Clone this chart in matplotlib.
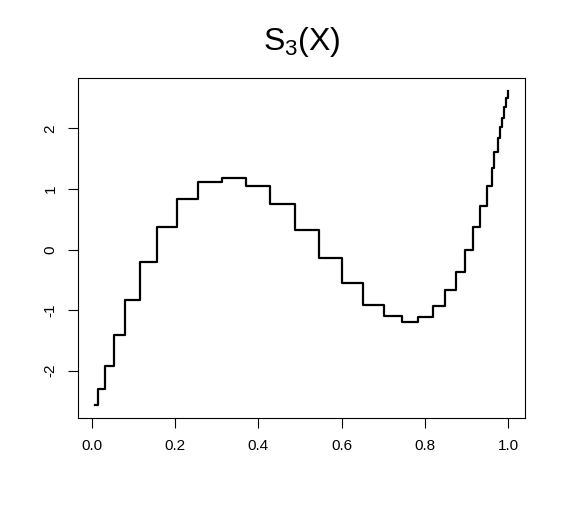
import matplotlib
matplotlib.use("Agg")
import matplotlib.pyplot as plt

plt.rcParams["font.family"] = ["Liberation Sans", "DejaVu Sans"]

# left edge of each step and the value held from there on
step_x = [0.008, 0.016, 0.033, 0.054, 0.080, 0.117, 0.157, 0.206, 0.256, 0.314,
          0.371, 0.429, 0.488, 0.546, 0.602, 0.651, 0.701, 0.744, 0.782, 0.818,
          0.848, 0.874, 0.896, 0.915, 0.932, 0.949, 0.961, 0.966, 0.975, 0.980,
          0.985, 0.990, 0.995, 1.000]
step_y = [-2.57, -2.30, -1.92, -1.42, -0.84, -0.21, 0.37, 0.83, 1.11, 1.18,
          1.05, 0.75, 0.32, -0.14, -0.55, -0.91, -1.10, -1.19, -1.12, -0.94,
          -0.675, -0.365, 0.0, 0.37, 0.713, 1.05, 1.34, 1.61, 1.84, 2.02,
          2.18, 2.35, 2.50, 2.62]

x_ticks = [0.0, 0.2, 0.4, 0.6, 0.8, 1.0]
y_ticks = [-2, -1, 0, 1, 2]

fig = plt.figure(figsize=(5.66, 5.16), dpi=100)
ax = fig.add_axes([0.1383, 0.1905, 0.7893, 0.6578])

ax.step(step_x, step_y, where="post", color="black", linewidth=1.6)

ax.set_xlim(-0.032, 1.040)
ax.set_ylim(-2.78, 2.83)
ax.set_xticks(x_ticks)
ax.set_xticklabels(["%.1f" % v for v in x_ticks])
ax.set_yticks(y_ticks)
ax.set_yticklabels([str(v) for v in y_ticks], rotation=90, va="center")
ax.tick_params(direction="out", length=7, width=0.8, labelsize=11, pad=8, colors="black")
for s in ax.spines.values():
    s.set_linewidth(0.8)

ax.set_title(r"$\mathregular{S_3(X)}$", fontsize=23, pad=20)

fig.savefig("out.png", dpi=100)
